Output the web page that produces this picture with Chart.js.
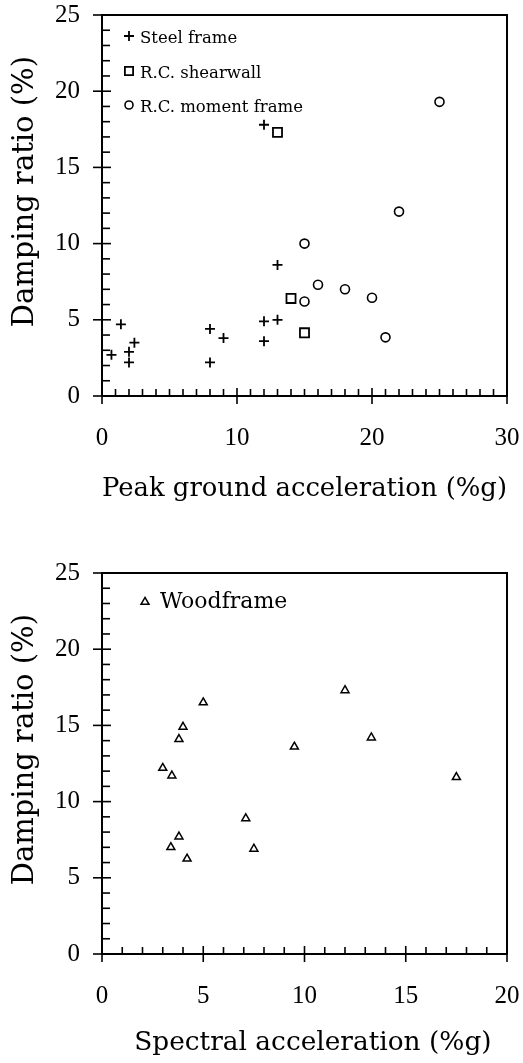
<!DOCTYPE html>
<html><head><meta charset="utf-8">
<script src="https://cdn.jsdelivr.net/npm/chart.js@4.4.1/dist/chart.umd.min.js"></script>
<style>
html,body{margin:0;padding:0;background:#fff;}
.box{position:absolute;left:0;width:523px;}
</style></head><body>
<div class="box" style="top:0;height:520px"><canvas id="c1" width="523" height="520"></canvas></div>
<div class="box" style="top:520px;height:543px"><canvas id="c2" width="523" height="543"></canvas></div>
<script>
// ---- data (top chart: peak ground acceleration %g vs damping ratio %) ----
const steelPGA  = [0.7, 1.4, 2.0, 2.0, 2.4, 8.0, 8.0, 9.0, 12.0, 12.0, 12.0, 13.0, 13.0];
const steelDamp = [2.7, 4.7, 2.9, 2.2, 3.5, 4.4, 2.2, 3.8, 4.9, 3.6, 17.8, 5.0, 8.6];
const shearPGA  = [13.0, 14.0, 15.0];
const shearDamp = [17.3, 6.4, 4.15];
const momentPGA  = [15.0, 15.0, 16.0, 18.0, 20.0, 21.0, 22.0, 25.0];
const momentDamp = [10.0, 6.2, 7.3, 7.0, 6.45, 3.85, 12.1, 19.3];
// ---- data (bottom chart: spectral acceleration %g vs damping ratio %) ----
const woodSA   = [3.0, 3.45, 3.8, 4.0, 5.0, 3.4, 3.8, 4.2, 7.1, 7.5, 9.5, 12.0, 13.3, 17.5];
const woodDamp = [12.2, 11.7, 14.1, 14.9, 16.5, 7.0, 7.7, 6.25, 8.9, 6.9, 13.6, 17.3, 14.2, 11.6];
// ---- axes ----
const seriesLabels = ['Steel frame', 'R.C. shearwall', 'R.C. moment frame', 'Woodframe'];
const yLabel = 'Damping ratio (%)';
const xLabelTop = 'Peak ground acceleration (%g)';
const xLabelBottom = 'Spectral acceleration (%g)';
const yMax = 25, yMajor = 5, yMinor = 1;
const xMaxTop = 30, xMajorTop = 10;
const xMaxBottom = 20, xMajorBottom = 5;
const xMinor = 1;

const pts = (xs, ys) => xs.map((v, i) => ({x: v, y: ys[i]}));

function drawMarker(ctx, style, x, y, r, bw) {
  ctx.save();
  ctx.strokeStyle = '#000'; ctx.lineWidth = bw;
  ctx.beginPath();
  if (style === 'cross') {
    ctx.moveTo(x - r, y); ctx.lineTo(x + r, y);
    ctx.moveTo(x, y - r); ctx.lineTo(x, y + r);
  } else if (style === 'rect') {
    const s = r * Math.SQRT1_2;
    ctx.rect(x - s, y - s, 2 * s, 2 * s);
  } else if (style === 'circle') {
    ctx.arc(x, y, r, 0, Math.PI * 2);
  } else if (style === 'triangle') {
    ctx.moveTo(x, y - r);
    ctx.lineTo(x + r * 0.866, y + r * 0.5);
    ctx.lineTo(x - r * 0.866, y + r * 0.5);
    ctx.closePath();
  }
  ctx.stroke();
  ctx.restore();
}

const axisDecor = {
  id: 'axisDecor',
  beforeDatasetsDraw(chart, args, opts) {
    const {ctx, chartArea: {left, right, top, bottom}, scales: {x, y}} = chart;
    ctx.save();
    ctx.strokeStyle = '#000';
    ctx.lineWidth = 2;
    ctx.strokeRect(left, top, right - left, bottom - top);
    ctx.lineWidth = 1.6;
    for (let v = x.min; v <= x.max + 1e-9; v += opts.xMinor) {
      const px = x.getPixelForValue(v);
      const major = Math.abs(v / opts.xMajor - Math.round(v / opts.xMajor)) < 1e-6;
      ctx.beginPath();
      ctx.moveTo(px, major ? bottom + 8 : bottom);
      ctx.lineTo(px, bottom - (major ? 8 : 7));
      ctx.stroke();
    }
    for (let v = y.min; v <= y.max + 1e-9; v += opts.yMinor) {
      const py = y.getPixelForValue(v);
      const major = Math.abs(v / opts.yMajor - Math.round(v / opts.yMajor)) < 1e-6;
      ctx.beginPath();
      ctx.moveTo(major ? left - 9 : left, py);
      ctx.lineTo(left + (major ? 9 : 8), py);
      ctx.stroke();
    }
    ctx.restore();
  }
};

const innerLegend = {
  id: 'innerLegend',
  afterDraw(chart, args, opts) {
    const {ctx, chartArea: {left, top}} = chart;
    chart.data.datasets.forEach((ds, i) => {
      drawMarker(ctx, ds.pointStyle, left + opts.markerX, top + opts.markerY[i], opts.markerR[i], ds.borderWidth);
      ctx.save();
      ctx.font = opts.font;
      ctx.fillStyle = '#000';
      ctx.textBaseline = 'alphabetic';
      ctx.textAlign = 'left';
      ctx.fillText(ds.label, left + opts.textX, top + opts.baseY[i]);
      ctx.restore();
    });
  }
};

const tickFont = {family: "'Liberation Serif', serif", size: 25};
const zeroPad = s => { s.paddingLeft = 0; s.paddingRight = 0; s.paddingTop = 0; s.paddingBottom = 0; };

function makeOptions(c) {
  return {
    responsive: false,
    animation: false,
    events: [],
    layout: {autoPadding: false, padding: {left: 0, right: 16, top: c.top, bottom: 0}},
    plugins: {
      legend: {display: false},
      tooltip: {enabled: false},
      axisDecor: {xMinor: xMinor, xMajor: c.xMajor, yMinor: yMinor, yMajor: yMajor},
      innerLegend: c.legend
    },
    scales: {
      x: {
        type: 'linear', min: 0, max: c.xMax,
        afterFit: s => { s.height = c.xAxisHeight; zeroPad(s); },
        ticks: {stepSize: c.xMajor, color: '#000', font: tickFont, padding: 27, maxRotation: 0, autoSkip: false},
        grid: {display: false, drawTicks: false},
        border: {display: true, color: '#000', width: 2},
        title: {display: true, text: c.xTitle, color: '#000',
                font: {family: "'DejaVu Serif', serif", size: c.xTitleSize},
                padding: {top: 0, bottom: c.xTitlePad}}
      },
      y: {
        type: 'linear', min: 0, max: yMax,
        afterFit: s => { s.width = 102; zeroPad(s); },
        ticks: {stepSize: yMajor, color: '#000', font: tickFont, padding: 22},
        grid: {display: false, drawTicks: false},
        border: {display: true, color: '#000', width: 2},
        title: {display: true, text: '   ' + yLabel, color: '#000',
                font: {family: "'DejaVu Serif', serif", size: 29},
                padding: {top: 8, bottom: 0}}
      }
    }
  };
}

new Chart(document.getElementById('c1'), {
  type: 'scatter',
  data: {datasets: [
    {label: seriesLabels[0], data: pts(steelPGA, steelDamp), pointStyle: 'cross', pointRadius: 5,
     borderColor: '#000', backgroundColor: 'rgba(0,0,0,0)', borderWidth: 1.8},
    {label: seriesLabels[1], data: pts(shearPGA, shearDamp), pointStyle: 'rect', pointRadius: 6.4,
     borderColor: '#000', backgroundColor: 'rgba(0,0,0,0)', borderWidth: 1.8},
    {label: seriesLabels[2], data: pts(momentPGA, momentDamp), pointStyle: 'circle', pointRadius: 4.5,
     borderColor: '#000', backgroundColor: 'rgba(0,0,0,0)', borderWidth: 1.6}
  ]},
  options: makeOptions({top: 15, xMax: xMaxTop, xMajor: xMajorTop, xAxisHeight: 124,
    xTitle: xLabelTop, xTitleSize: 26, xTitlePad: 15,
    legend: {markerX: 27, markerY: [21, 56, 90], markerR: [5, 5.8, 4], textX: 38, baseY: [28, 62.5, 97],
             font: "16.5px 'DejaVu Serif', serif"}}),
  plugins: [axisDecor, innerLegend]
});

new Chart(document.getElementById('c2'), {
  type: 'scatter',
  data: {datasets: [
    {label: seriesLabels[3], data: pts(woodSA, woodDamp), pointStyle: 'triangle', pointRadius: 4.6,
     borderColor: '#000', backgroundColor: 'rgba(0,0,0,0)', borderWidth: 1.5}
  ]},
  options: makeOptions({top: 53, xMax: xMaxBottom, xMajor: xMajorBottom, xAxisHeight: 109,
    xTitle: '  ' + xLabelBottom, xTitleSize: 26.4, xTitlePad: 4,
    legend: {markerX: 43, markerY: [29], markerR: [4.6], textX: 58, baseY: [35],
             font: "22px 'DejaVu Serif', serif"}}),
  plugins: [axisDecor, innerLegend]
});
</script>
</body></html>
